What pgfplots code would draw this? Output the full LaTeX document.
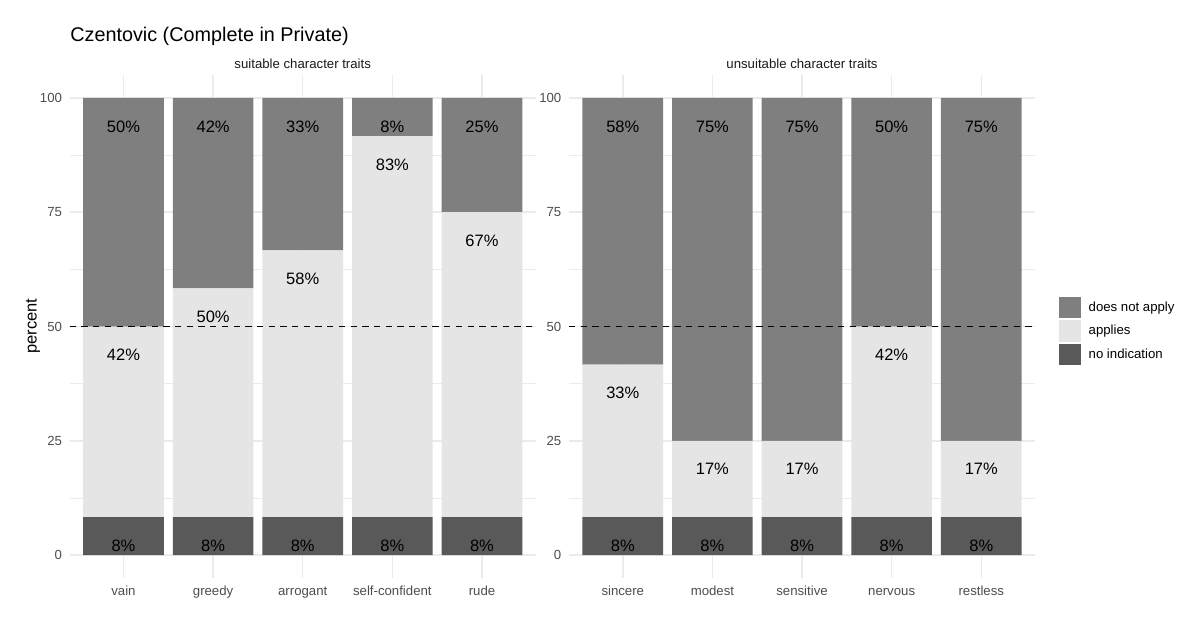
\documentclass[border=0pt]{standalone}
\usepackage{pgfplots}
\pgfplotsset{compat=1.18}
\usepackage{pgfplotstable}
\usepackage{fontspec}
\setmainfont{Liberation Sans}
\definecolor{cNot}{HTML}{7F7F7F}
\definecolor{cApp}{HTML}{E5E5E5}
\definecolor{cNo}{HTML}{595959}
\definecolor{cGrid}{HTML}{EBEBEB}
\definecolor{cAxTxt}{HTML}{4D4D4D}
\definecolor{cStrip}{HTML}{1A1A1A}

% left panel: suitable character traits
\pgfplotstableread{
x y lab
1 8.333 8
2 8.333 8
3 8.333 8
4 8.333 8
5 8.333 8
}\LeftNo
\pgfplotstableread{
x y lab
1 41.667 42
2 50.000 50
3 58.333 58
4 83.333 83
5 66.667 67
}\LeftApp
\pgfplotstableread{
x y lab
1 50.000 50
2 41.667 42
3 33.333 33
4 8.333 8
5 25.000 25
}\LeftNot
% right panel: unsuitable character traits
\pgfplotstableread{
x y lab
1 8.333 8
2 8.333 8
3 8.333 8
4 8.333 8
5 8.333 8
}\RightNo
\pgfplotstableread{
x y lab
1 33.333 33
2 16.667 17
3 16.667 17
4 41.667 42
5 16.667 17
}\RightApp
\pgfplotstableread{
x y lab
1 58.333 58
2 75.000 75
3 75.000 75
4 50.000 50
5 75.000 75
}\RightNot

\pgfplotsset{
  panel/.style={
    scale only axis,
    width=310.7pt, height=335.3pt,
    xmin=0.4, xmax=5.6, ymin=-5, ymax=105,
    ybar stacked, bar width=0.9,
    axis line style={draw=none},
    major tick length=0pt, minor tick length=0pt,
    xtick={1,2,3,4,5},
    ytick={0,25,50,75,100},
    minor ytick={12.5,37.5,62.5,87.5},
    grid=both,
    major grid style={draw=cGrid, line width=1pt},
    minor grid style={draw=cGrid, line width=0.5pt},
    /pgf/number format/assume math mode=true,
    tick label style={font=\fontsize{8.8}{10}\selectfont, text=cAxTxt},
    yticklabel style={xshift=-1.6pt},
    xticklabel style={anchor=base, yshift=-11.4pt},
    every axis title shift=0pt,
    title style={at={(0.5,1)}, anchor=base, yshift=4.5pt, inner sep=0pt,
      font=\fontsize{8.8}{10}\selectfont, text=cStrip},
    point meta=explicit symbolic,
    visualization depends on={rawy \as \hh},
    nodes near coords={\pgfplotspointmeta\%},
    every node near coord/.append style={anchor=center, yshift={\hh*1.5241-19},
      font=\fontsize{11}{12}\selectfont, text=black},
  },
}

\begin{document}
\begin{tikzpicture}
\path[use as bounding box] (0,0) rectangle (800pt,417.33pt);

\begin{axis}[panel, at={(46.47pt,32pt)}, anchor=south west,
  xticklabels={vain,greedy,arrogant,self-confident,rude},
  title={suitable character traits}]
\addplot[fill=cNo, draw=none] table[x=x, y=y, meta=lab] {\LeftNo};
\addplot[fill=cApp, draw=none] table[x=x, y=y, meta=lab] {\LeftApp};
\addplot[fill=cNot, draw=none] table[x=x, y=y, meta=lab] {\LeftNot};
\end{axis}

\begin{axis}[panel, at={(379.33pt,32pt)}, anchor=south west,
  xticklabels={sincere,modest,sensitive,nervous,restless},
  title={unsuitable character traits},
  legend cell align=left,
  reverse legend,
  legend image code/.code={\fill[#1, draw=none] (0pt,-7.2pt) rectangle (14.7pt,7.2pt);},
  legend style={at={(1.051,0.491)}, anchor=west, draw=none, fill=none,
    inner sep=0pt, row sep=1.2pt, column sep=5pt,
    nodes={inner sep=0pt, font=\fontsize{8.8}{10}\selectfont, text=black}},
  ]
\addplot[fill=cNo, draw=none] table[x=x, y=y, meta=lab] {\RightNo};
\addlegendentry{no indication}
\addplot[fill=cApp, draw=none] table[x=x, y=y, meta=lab] {\RightApp};
\addlegendentry{applies}
\addplot[fill=cNot, draw=none] table[x=x, y=y, meta=lab] {\RightNot};
\addlegendentry{does not apply}
\end{axis}

% dashed reference lines at 50
\begin{axis}[scale only axis, width=310.7pt, height=335.3pt,
  at={(46.47pt,32pt)}, anchor=south west,
  xmin=0.4, xmax=5.6, ymin=-5, ymax=105, hide axis]
\addplot[black, line width=0.9pt, dash pattern=on 4.2pt off 3.6pt] coordinates {(0.4,50) (5.6,50)};
\end{axis}
\begin{axis}[scale only axis, width=310.7pt, height=335.3pt,
  at={(379.33pt,32pt)}, anchor=south west,
  xmin=0.4, xmax=5.6, ymin=-5, ymax=105, hide axis]
\addplot[black, line width=0.9pt, dash pattern=on 4.2pt off 3.6pt] coordinates {(0.4,50) (5.6,50)};
\end{axis}

\node[anchor=base west, font=\fontsize{13.2}{15}\selectfont, text=black, inner sep=0pt]
  at (46.67pt,389.5pt) {Czentovic (Complete in Private)};
\node[rotate=90, font=\fontsize{11}{12}\selectfont, text=black]
  at (22pt,200pt) {percent};
\end{tikzpicture}
\end{document}
